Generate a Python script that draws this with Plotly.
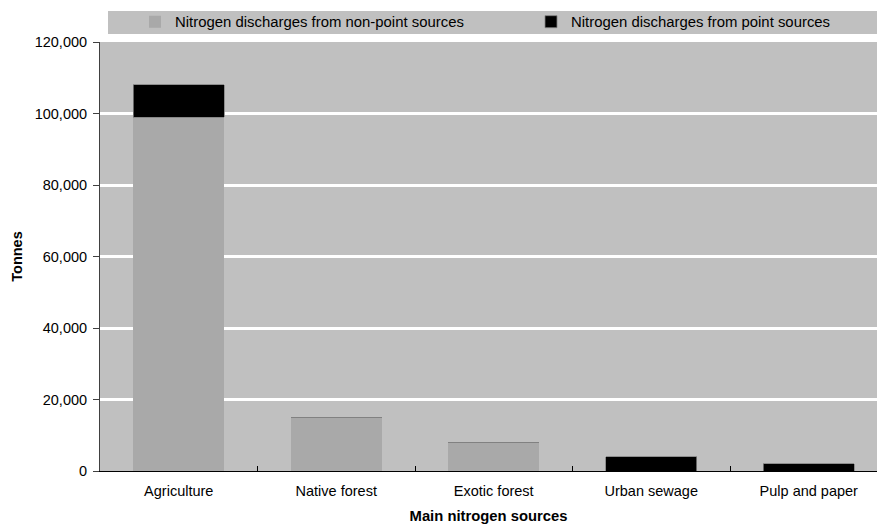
import plotly.graph_objects as go

categories = ["Agriculture", "Native forest", "Exotic forest", "Urban sewage", "Pulp and paper"]
non_point = [99000, 15000, 8000, 0, 0]
point = [9000, 0, 0, 4000, 2000]
y_ticks = [0, 20000, 40000, 60000, 80000, 100000, 120000]

W, H = 877, 527
L, R, T, B = 100, 0, 42, 56
pw, ph = W - L - R, H - T - B
FS = 14.5

fig = go.Figure()
fig.add_trace(go.Bar(
    x=categories, y=non_point, name="Nitrogen discharges from non-point sources",
    marker=dict(color="#A9A9A9", line=dict(width=0)), width=0.58,
    legend="legend",
))
fig.add_trace(go.Bar(
    x=categories, y=point, name="Nitrogen discharges from point sources",
    marker=dict(color="#000000", line=dict(width=0.8, color="#808080")), width=0.58,
    legend="legend2",
))

# legend backing strip
fig.add_shape(type="rect", xref="paper", yref="paper",
              x0=(108 - L) / pw, x1=1.0, y0=1 + (T - 34) / ph, y1=1 + (T - 11) / ph,
              fillcolor="#C0C0C0", line=dict(width=0), layer="below")

legend_common = dict(orientation="h", xanchor="left", y=1 + (T - 22) / ph, yanchor="middle",
                     bgcolor="rgba(0,0,0,0)", font=dict(size=14.9), itemwidth=30)

fig.update_layout(
    width=W, height=H,
    margin=dict(l=L, r=R, t=T, b=B, autoexpand=False),
    barmode="stack", bargap=0.42,
    paper_bgcolor="white", plot_bgcolor="#C0C0C0",
    font=dict(family="Liberation Sans, Arial, sans-serif", size=FS, color="#000000"),
    showlegend=True,
    legend=dict(x=(135 - L) / pw, **legend_common),
    legend2=dict(x=(531 - L) / pw, **legend_common),
    xaxis=dict(
        range=[-0.5, -0.5 + pw / 157.5], showgrid=False,
        showline=True, linecolor="#000000", linewidth=1,
        ticks="inside", tickson="boundaries", ticklen=5, tickcolor="#000000",
        ticklabelstandoff=7,
        title=dict(text="<b>Main nitrogen sources</b>", font=dict(size=14.8), standoff=12),
        tickfont=dict(size=FS),
    ),
    yaxis=dict(
        range=[0, 120000], tickvals=y_ticks, tickformat=",",
        showgrid=True, gridcolor="white", gridwidth=2.5,
        zeroline=False,
        showline=True, linecolor="#404040", linewidth=1,
        ticks="outside", ticklen=6, tickcolor="#404040",
        ticklabelstandoff=3,
        title=dict(text="<b>Tonnes</b>", font=dict(size=FS), standoff=8),
        tickfont=dict(size=FS),
    ),
)

fig.write_html("out.html")
